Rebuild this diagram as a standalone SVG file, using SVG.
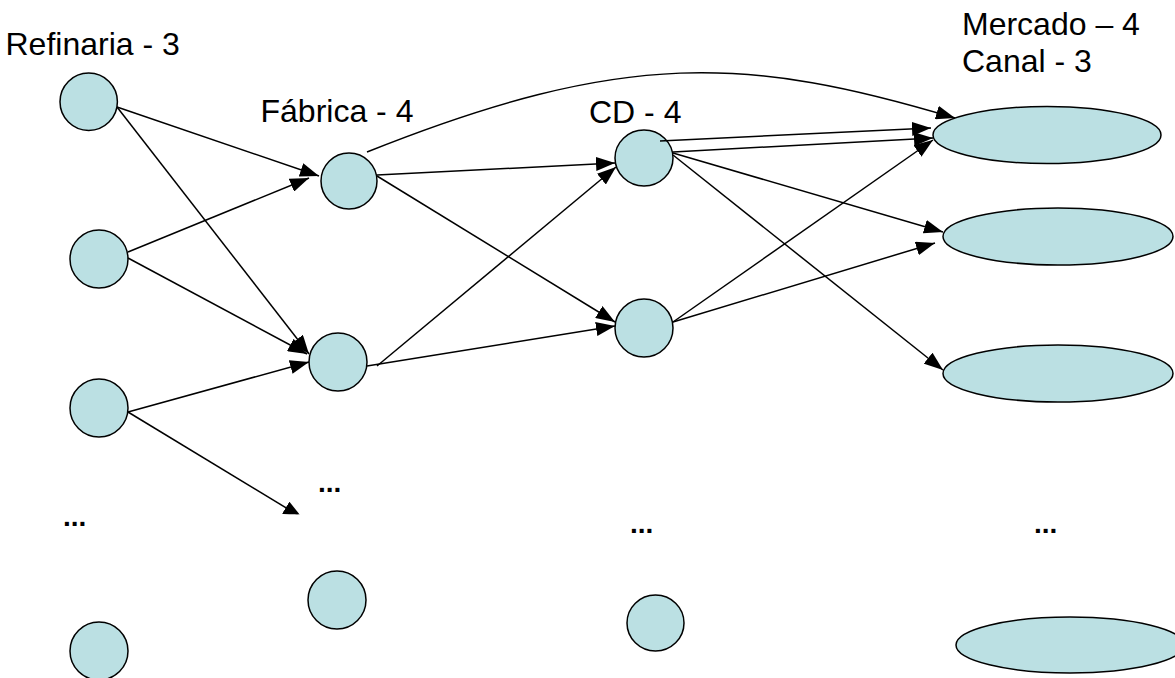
<svg xmlns="http://www.w3.org/2000/svg" width="1175" height="678" viewBox="0 0 1175 678">
<style>
  .node { fill: #BBE0E3; stroke: #000; stroke-width: 1.5; }
  .lbl { font-family: "Liberation Sans", Arial, sans-serif; font-size: 32px; fill: #000; }
  .dots { font-family: "Liberation Sans", Arial, sans-serif; font-size: 28px; font-weight: bold; fill: #000; }
  .conn { fill: none; stroke: #000; stroke-width: 1.5; marker-end: url(#arrow); }
</style>
<defs>
  <marker id="arrow" markerUnits="userSpaceOnUse" markerWidth="19" markerHeight="14" refX="19" refY="7" orient="auto">
    <path d="M0,0 L19,7 L0,14 Z" fill="#000"/>
  </marker>
  <clipPath id="clipDots">
    <rect x="0" y="0" width="1175" height="514.3"/>
  </clipPath>
</defs>
<rect width="1175" height="678" fill="#fff"/>

<g id="labels">
  <text class="lbl" x="5.5" y="55">Refinaria - 3</text>
  <text class="lbl" x="260.5" y="122">Fábrica - 4</text>
  <text class="lbl" x="589" y="122.5">CD - 4</text>
  <text class="lbl" x="962" y="35">Mercado – 4</text>
  <text class="lbl" x="962" y="72">Canal - 3</text>
  <text class="dots" x="63" y="526">...</text>
  <text class="dots" x="318" y="492">...</text>
  <text class="dots" x="630" y="533">...</text>
  <text class="dots" x="1034" y="533">...</text>
</g>

<g id="ref1"><circle class="node" cx="88.7" cy="101.7" r="28.7"/></g>
<g id="ref2"><circle class="node" cx="99" cy="259" r="29"/></g>
<g id="ref3"><circle class="node" cx="99" cy="408" r="29"/></g>
<g id="ref4"><circle class="node" cx="99" cy="651" r="29"/></g>

<g id="fab1"><circle class="node" cx="349" cy="181" r="28"/></g>
<g id="fab2"><circle class="node" cx="338" cy="362" r="29"/></g>
<g id="fab3"><circle class="node" cx="337" cy="600" r="29"/></g>

<g id="cd1"><ellipse class="node" cx="644" cy="158" rx="29" ry="28"/></g>
<g id="cd2"><ellipse class="node" cx="644" cy="328" rx="29" ry="29"/></g>
<g id="cd3"><ellipse class="node" cx="655.5" cy="623" rx="28.5" ry="28"/></g>

<g id="mkt1"><ellipse class="node" cx="1047" cy="135" rx="114" ry="28.5"/></g>
<g id="mkt2"><ellipse class="node" cx="1058" cy="236.5" rx="115" ry="28.5"/></g>
<g id="mkt3"><ellipse class="node" cx="1058" cy="373.5" rx="115" ry="28.5"/></g>
<g id="mkt4"><ellipse class="node" cx="1070" cy="645" rx="114" ry="28"/></g>

<g id="connectors">
  <path class="conn" d="M117,107 L319,176"/>
  <path class="conn" d="M117,107 L309,354"/>
  <path class="conn" d="M128,252 L309,178"/>
  <path class="conn" d="M128,258 L307,354"/>
  <path class="conn" d="M128,412 L309,362"/>
  <path class="conn" d="M128,412 L302,517.5" clip-path="url(#clipDots)"/>
  <path class="conn" d="M377,175 L615,163"/>
  <path class="conn" d="M377,176 L615,322"/>
  <path class="conn" d="M377,366 L616,167"/>
  <path class="conn" d="M367,366 L615,326"/>
  <path class="conn" d="M367,152 C625,49 748,56 955,118"/>
  <path class="conn" d="M660,141 L931,128"/>
  <path class="conn" d="M673,152 L933,138"/>
  <path class="conn" d="M673,153 L943,232"/>
  <path class="conn" d="M673,155 L943,370"/>
  <path class="conn" d="M673,322 L933,140"/>
  <path class="conn" d="M673,322 L935,243"/>
</g>
</svg>
